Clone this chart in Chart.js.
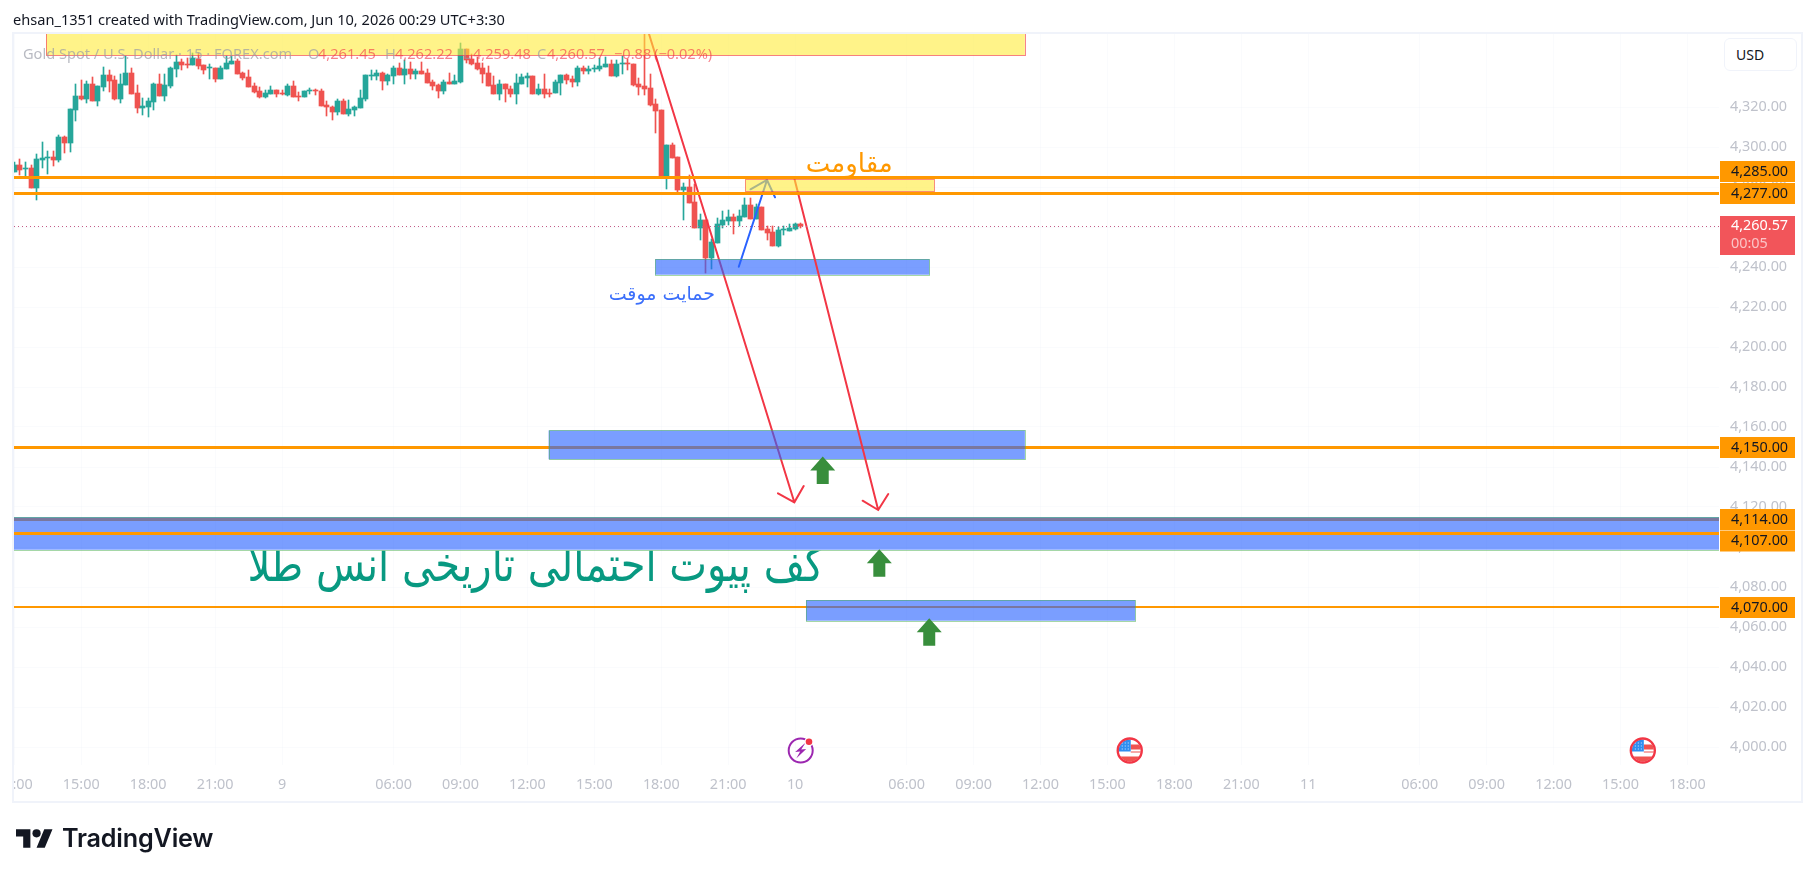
<!DOCTYPE html>
<html><head><meta charset="utf-8">
<script src="https://cdn.jsdelivr.net/npm/chart.js@4"></script>
<style>
html,body{margin:0;padding:0;background:#fff;width:1814px;height:877px;overflow:hidden}
#wrap{position:relative;width:1814px;height:877px}
#c{position:absolute;left:0;top:0}
.t{position:absolute;white-space:pre;font-family:"Noto Sans",sans-serif}
#head{left:13px;top:9px;font-size:14.6px;line-height:20px;color:#131722}
.lg{top:43px;font-size:14.6px;line-height:20px}
#usd{position:absolute;left:1724px;top:38px;width:71px;height:31px;border:1px solid #f0f3fa;border-radius:6px;background:#fff;box-sizing:content-box;font:14px/31px "Noto Sans",sans-serif;color:#131722;text-indent:11px}
#word{left:62px;top:822px;font-family:Inter,sans-serif;font-weight:600;font-size:25.2px;line-height:32px;color:#131722;letter-spacing:-.2px}
#logo{position:absolute;left:15.5px;top:829px}
</style></head><body><div id="wrap">
<canvas id="c" width="1814" height="877"></canvas>
<div class="t" id="head">ehsan_1351 created with TradingView.com, Jun 10, 2026 00:29 UTC+3:30</div>
<div id="legend"></div>
<div id="usd">USD</div>
<svg id="logo" width="37" height="19" viewBox="0 4 36 18"><path fill="#131722" d="M14 22H7V11H0V4h14v18zM28 22h-8l7.5-18h8L28 22z"/><circle fill="#131722" cx="20" cy="8" r="4"/></svg>
<div class="t" id="word">TradingView</div>
</div>
<script>
const opens=[4287.7,4291.0,4289.0,4289.5,4279.7,4293.5,4294.7,4295.0,4293.5,4305.0,
4302.0,4318.5,4325.5,4324.0,4331.5,4323.0,4330.0,4336.0,4333.5,4324.0,
4331.0,4337.0,4327.0,4319.7,4320.0,4322.5,4331.5,4325.5,4330.5,4339.0,
4342.5,4341.5,4341.0,4344.2,4341.0,4339.3,4339.5,4334.0,4339.0,4341.7,
4343.0,4337.0,4335.0,4330.5,4328.0,4325.0,4326.5,4328.5,4326.8,4326.0,
4330.5,4325.5,4325.0,4328.0,4328.5,4328.0,4320.8,4320.0,4317.5,4323.0,
4316.5,4318.5,4319.5,4324.0,4335.7,4335.5,4337.0,4333.0,4335.5,4339.5,
4336.0,4339.0,4336.5,4338.0,4337.0,4332.5,4331.0,4328.0,4332.5,4331.5,
4332.5,4349.0,4344.0,4342.0,4339.5,4337.0,4331.0,4326.5,4331.5,4329.0,
4326.5,4331.5,4334.7,4335.5,4326.5,4329.0,4327.0,4327.0,4332.0,4336.0,
4334.0,4332.5,4339.5,4338.2,4339.2,4339.0,4340.0,4341.5,4335.5,4341.5,
4342.0,4341.5,4331.5,4330.5,4329.5,4321.5,4318.5,4285.2,4301.0,4295.0,
4278.5,4280.0,4272.5,4259.5,4263.5,4244.5,4252.0,4261.0,4263.0,4265.0,
4263.0,4265.0,4271.0,4264.0,4270.0,4259.0,4257.5,4250.5,4258.3,4258.0,
4259.0,4261.45];
const highs=[4292.3,4294.0,4292.5,4291.0,4296.5,4302.5,4297.8,4298.2,4306.0,4305.7,
4319.0,4331.5,4333.5,4333.0,4335.0,4330.5,4340.0,4338.5,4335.5,4336.5,
4345.5,4339.5,4331.0,4324.3,4324.3,4331.8,4336.5,4336.5,4339.8,4346.0,
4344.0,4344.3,4346.8,4346.8,4341.0,4341.5,4339.5,4340.5,4345.5,4345.5,
4344.0,4337.5,4338.5,4331.8,4330.0,4328.5,4330.5,4328.5,4328.5,4331.5,
4333.0,4327.5,4328.0,4329.5,4328.8,4329.0,4323.0,4320.5,4324.0,4324.0,
4323.5,4320.5,4328.5,4336.0,4338.7,4338.5,4337.5,4336.5,4340.5,4341.8,
4343.5,4342.5,4339.0,4342.5,4339.0,4333.5,4331.5,4333.5,4337.0,4336.0,
4352.0,4349.0,4346.5,4344.8,4341.8,4340.5,4335.5,4333.5,4331.5,4330.5,
4336.5,4336.5,4336.8,4335.5,4331.5,4336.5,4329.0,4333.5,4336.0,4336.5,
4335.5,4340.5,4340.5,4340.7,4341.0,4344.3,4344.8,4343.5,4343.5,4345.5,
4343.8,4341.5,4334.5,4358.0,4336.5,4324.0,4318.5,4301.0,4302.0,4295.0,
4282.0,4286.0,4281.5,4266.5,4263.5,4254.0,4264.5,4268.2,4268.5,4266.5,
4268.5,4274.5,4274.5,4271.5,4270.0,4260.5,4260.5,4260.0,4260.5,4261.5,
4261.8,4262.22];
const lows=[4287.3,4286.0,4284.7,4279.7,4273.5,4289.3,4286.5,4290.5,4292.7,4297.0,
4297.5,4313.0,4323.5,4322.2,4323.0,4320.5,4327.8,4327.5,4323.5,4322.2,
4331.0,4326.5,4316.8,4316.0,4315.2,4318.5,4325.5,4323.0,4329.3,4335.0,
4338.5,4339.5,4341.0,4338.8,4336.5,4334.0,4332.5,4334.0,4339.0,4341.7,
4336.5,4333.5,4330.0,4326.8,4324.5,4324.5,4326.5,4325.0,4326.0,4325.7,
4325.0,4323.0,4325.0,4326.5,4326.0,4320.5,4315.5,4313.5,4316.0,4316.5,
4315.5,4315.5,4319.5,4323.2,4333.5,4333.5,4328.5,4331.0,4331.5,4336.0,
4331.5,4334.0,4334.0,4336.5,4332.0,4328.5,4324.5,4326.5,4331.5,4331.5,
4332.0,4341.8,4341.0,4338.5,4331.8,4330.5,4326.5,4323.5,4322.7,4325.2,
4321.5,4331.5,4329.8,4326.5,4326.0,4324.5,4325.2,4327.0,4326.0,4331.5,
4330.0,4330.5,4336.5,4336.5,4337.5,4338.0,4340.0,4335.5,4335.0,4336.5,
4338.5,4330.5,4326.0,4326.0,4320.5,4306.8,4285.2,4279.0,4294.5,4277.5,
4263.5,4272.0,4259.5,4253.5,4237.0,4239.0,4252.0,4259.5,4261.0,4256.5,
4260.5,4265.0,4264.0,4264.0,4258.5,4253.5,4250.5,4250.0,4256.0,4258.0,
4258.5,4259.48];
const closes=[4291.0,4288.5,4289.5,4279.7,4294.0,4294.5,4295.0,4293.5,4305.0,4302.0,
4319.0,4325.5,4324.2,4331.5,4323.0,4330.5,4336.0,4333.0,4324.0,4331.5,
4337.0,4326.5,4319.5,4320.5,4323.0,4331.5,4325.5,4331.0,4339.5,4342.5,
4341.2,4341.0,4344.5,4340.5,4338.5,4339.8,4334.0,4339.5,4342.0,4343.0,
4336.5,4334.5,4330.0,4327.5,4325.0,4327.0,4328.5,4326.5,4326.5,4330.5,
4325.0,4325.2,4328.0,4328.5,4328.2,4320.5,4320.0,4317.5,4323.0,4316.5,
4319.0,4320.0,4324.5,4336.0,4336.0,4336.8,4333.0,4336.0,4339.5,4336.0,
4339.0,4336.5,4338.2,4336.7,4332.0,4330.5,4328.0,4332.5,4331.5,4333.0,
4349.0,4343.5,4341.5,4339.0,4336.5,4330.5,4326.5,4331.5,4329.0,4326.5,
4332.0,4335.0,4335.5,4326.5,4329.0,4326.5,4326.5,4332.5,4336.0,4333.5,
4332.5,4339.5,4338.0,4339.0,4339.7,4340.5,4341.5,4335.5,4341.5,4342.0,
4341.5,4331.0,4330.0,4329.0,4321.0,4318.0,4285.2,4301.0,4294.5,4278.5,
4280.0,4272.0,4259.5,4263.5,4244.5,4252.5,4261.5,4263.5,4265.0,4263.0,
4265.5,4271.0,4264.0,4270.0,4258.5,4257.0,4250.5,4258.5,4258.8,4259.5,
4261.5,4260.57];

const priceTicks=[4320,4300,4280,4260,4240,4220,4200,4180,4160,4140,4120,4100,4080,4060,4040,4020,4000];
const timeTickBars=[0,12,24,36,48,68,80,92,104,116,128,140,160,172,184,196,208,220,232,252,264,276,288,300];
const timeTickLabels=["12:00","15:00","18:00","21:00","9","06:00","09:00","12:00","15:00","18:00","21:00","10","06:00","09:00","12:00","15:00","18:00","21:00","11","06:00","09:00","12:00","15:00","18:00"];
const levelPrices=[4285,4277,4150,4114,4107,4070];
const lastPrice=4260.57;
const countdown="00:05";

// drawings, in [bar, price] terms
const yellowTop=[5.73,4370,181.2,4345.85];
const yellowSmall=[131.07,4283.85,165.0,4277.65];
const blueZones=[[95.8,4158.3,181.2,4143.85],[-5,4115,310,4098.65],[141.95,4073.5,201.0,4063.15],[114.9,4244,164.1,4236.15]];
const redArrow1=[[113.8,4356.5],[139.86,4122.35],[136.93,4126.85],[141.54,4130.5]];
const redArrow2=[[139.8,4285],[154.9,4118.5],[152.1,4123.15],[156.7,4126.5]];
const blueArrow=[[129.9,4240.15],[134.96,4283.5],[132.0,4278.85],[136.4,4274.85]];
const greenArrowBars=[144.95,155.1,164.05];
const greenArrowTips=[4145.2,4098.85,4064.35];
const eventBolt=[141];
const eventFlags=[200,292];
const noteResistance="مقاومت";
const noteSupport="حمایت موقت";
const notePivot="کف پیوت احتمالی تاریخی انس طلا";

const legendParts=[["Gold Spot / U.S. Dollar · 15 · FOREX.com",23,0],["O",308,0],["4,261.45",318,1],["H",385,0],["4,262.22",395,1],["L",463,0],["4,259.48",473,1],["C",537,0],["4,260.57",547,1],["−0.88",614,1],["(−0.02%)",654,1]];
const legendEl=document.getElementById('legend');
legendParts.forEach(p=>{const s=document.createElement('div');s.className='t lg';s.textContent=p[0];s.style.left=p[1]+'px';s.style.color=p[2]?'rgba(242,54,69,.62)':'rgba(150,153,165,.68)';legendEl.appendChild(s);});

const UP='#26a69a',DOWN='#ef5350',ORANGE='#ff9800',BLUE='rgba(41,98,255,.62)',YELLOW='rgba(255,235,59,.6)',RED='#f23645';
const barColors=opens.map((o,i)=>closes[i]>=o?UP:DOWN);
const fontAxis='14.4px "Noto Sans",sans-serif';
const fmt=v=>v.toLocaleString('en-US',{minimumFractionDigits:2,maximumFractionDigits:2});

const snap={id:'snap',beforeDatasetsDraw(ch){
  ch.data.datasets.forEach((d,k)=>{ch.getDatasetMeta(k).data.forEach(el=>{
    el.x=Math.round(el.x-.5)+.5;
    let a=Math.round(el.y),b=Math.round(el.base);
    if(a===b)b=a+1;
    el.y=a;el.base=b;
  });});
}};

const drawings={id:'drawings',afterDatasetsDraw(ch){
  const c=ch.ctx,X=v=>ch.scales.x.getPixelForValue(v),Y=v=>ch.scales.y.getPixelForValue(v),A=ch.chartArea;
  const hline=(p,w,col)=>{c.strokeStyle=col;c.lineWidth=w;c.beginPath();const y=Math.round(Y(p))+(w%2?.5:0);c.moveTo(A.left,y);c.lineTo(A.right,y);c.stroke();};
  const rect=(r,fill,bd)=>{const x=X(r[0]),y=Y(r[1]),w=X(r[2])-x,h=Y(r[3])-y;c.fillStyle=fill;c.fillRect(x,y,w,h);c.strokeStyle=bd;c.lineWidth=1;c.strokeRect(Math.round(x)+.5,Math.round(y)+.5,Math.round(w),Math.round(h));};
  const arrow=(a,col,w)=>{c.strokeStyle=col;c.lineWidth=w;c.lineCap='round';c.beginPath();c.moveTo(X(a[0][0]),Y(a[0][1]));c.lineTo(X(a[1][0]),Y(a[1][1]));c.moveTo(X(a[2][0]),Y(a[2][1]));c.lineTo(X(a[1][0]),Y(a[1][1]));c.lineTo(X(a[3][0]),Y(a[3][1]));c.stroke();c.lineCap='butt';};
  c.save();c.beginPath();c.rect(A.left,A.top,A.right-A.left,A.bottom-A.top);c.clip();
  hline(levelPrices[2],3,ORANGE);hline(levelPrices[3],3,ORANGE);hline(levelPrices[5],2,ORANGE);
  arrow(blueArrow,'#2962ff',2);
  arrow(redArrow1,RED,2);
  blueZones.forEach(z=>rect(z,BLUE,'rgba(76,175,80,.5)'));
  arrow(redArrow2,RED,2);
  rect(yellowTop,YELLOW,'rgba(242,54,69,.62)');
  rect(yellowSmall,YELLOW,'rgba(242,54,69,.55)');
  hline(levelPrices[0],3,ORANGE);hline(levelPrices[1],3,ORANGE);hline(levelPrices[4],3,ORANGE);
  // current price line
  c.strokeStyle='#c45a85';c.lineWidth=1;c.setLineDash([1,3]);c.beginPath();const ly=Math.round(Y(lastPrice))+.5;c.moveTo(A.left,ly);c.lineTo(A.right,ly);c.stroke();c.setLineDash([]);
  // green arrows
  c.fillStyle='#388e3c';
  greenArrowBars.forEach((b,i)=>{const x=X(b),t=Y(greenArrowTips[i]);c.beginPath();c.moveTo(x,t);c.lineTo(x+12.5,t+14);c.lineTo(x+6,t+14);c.lineTo(x+6,t+27.5);c.lineTo(x-6,t+27.5);c.lineTo(x-6,t+14);c.lineTo(x-12.5,t+14);c.closePath();c.fill();});
  // notes
  c.direction='rtl';c.textAlign='center';c.textBaseline='middle';
  c.fillStyle=ORANGE;c.font='26px "DejaVu Sans",sans-serif';c.fillText(noteResistance,X(149.7),Y(4291));
  c.fillStyle='#3b6ffb';c.font='19px "DejaVu Sans",sans-serif';c.fillText(noteSupport,X(116.1),Y(4226));
  // pivot note sits below the zone and is cut by it
  c.save();c.beginPath();c.rect(A.left,Y(4098.65)+1,A.right-A.left,A.bottom-Y(4098.65));c.clip();
  c.fillStyle='#089981';c.font='44px "DejaVu Sans",sans-serif';
  c.translate(X(93.5),Y(4089.5));c.scale(.91,1.1);c.fillText(notePivot,0,0);
  c.restore();
  c.direction='ltr';
  // events
  const ey=750.5;
  eventBolt.forEach(b=>{const x=X(b);c.strokeStyle='#9c27b0';c.lineWidth=2;c.beginPath();c.arc(x,ey,12,0,Math.PI*2);c.stroke();
    c.fillStyle='#9c27b0';c.beginPath();c.moveTo(x+5,ey-8);c.lineTo(x-5.5,ey+1.5);c.lineTo(x-.5,ey+1);c.lineTo(x-4.5,ey+8);c.lineTo(x+5.5,ey-1.5);c.lineTo(x+.5,ey-1);c.closePath();c.fill();
    c.fillStyle='#fff';c.beginPath();c.arc(x+8.3,ey-8.8,4.6,0,Math.PI*2);c.fill();
    c.fillStyle=RED;c.beginPath();c.arc(x+8.3,ey-8.8,3.3,0,Math.PI*2);c.fill();});
  eventFlags.forEach(b=>{const x=X(b);c.save();c.beginPath();c.arc(x,ey,11,0,Math.PI*2);c.clip();c.fillStyle='#fff';c.fillRect(x-12,ey-12,24,24);
    c.fillStyle='#ef5350';c.fillRect(x+1,ey-6,12,5);c.fillRect(x-12,ey+6,24,6);c.fillRect(x+1,ey+1,12,1);
    c.fillStyle='#2e8ef0';c.fillRect(x-12,ey-12,13,13);
    c.fillStyle='#d6e8ff';for(let i=0;i<3;i++)for(let j=0;j<3;j++)c.fillRect(x-8+i*3,ey-8+j*3,1,1);
    c.restore();c.strokeStyle=RED;c.lineWidth=2.4;c.beginPath();c.arc(x,ey,12,0,Math.PI*2);c.stroke();});
  c.restore();
}};

const overlay={id:'overlay',afterDraw(ch){
  const c=ch.ctx,Y=v=>ch.scales.y.getPixelForValue(v);
  // frame and clipped first time label
  c.fillStyle='#fff';c.fillRect(0,770,13,28);
  c.strokeStyle='#f0f3fa';c.lineWidth=2;c.strokeRect(13,33,1789,769);
  // price labels
  const nudge=[-5.5,0.5,0.5,0.5,8,0.5];
  c.textAlign='left';c.textBaseline='middle';
  levelPrices.forEach((p,i)=>{const y=Y(p)+nudge[i];c.fillStyle=ORANGE;c.fillRect(1720,y-10.5,75,21);c.fillStyle='#131722';c.font=fontAxis;c.fillText(fmt(p),1731,y);});
  c.fillStyle='#f2555a';c.fillRect(1720,216,75,39);
  c.fillStyle='#fff';c.font=fontAxis;c.fillText(fmt(lastPrice),1731,226);
  c.fillStyle='rgba(255,255,255,.65)';c.fillText(countdown,1731,244);
}};

new Chart(document.getElementById('c'),{
  type:'bar',
  data:{datasets:[
    {label:'wick',order:2,barThickness:1,backgroundColor:barColors,data:opens.map((o,i)=>({x:i,y:[lows[i],highs[i]]}))},
    {label:'body',order:1,barThickness:5,backgroundColor:barColors,data:opens.map((o,i)=>({x:i,y:[Math.min(o,closes[i]),Math.max(o,closes[i])]}))}
  ]},
  options:{
    responsive:false,animation:false,devicePixelRatio:1,
    layout:{padding:{left:14,top:34,right:12,bottom:75}},
    plugins:{legend:{display:false},tooltip:{enabled:false},title:{display:false}},
    datasets:{bar:{grouped:false,borderWidth:0,borderSkipped:false}},
    scales:{
      x:{type:'linear',offset:false,min:-0.06,max:305.66,
        grid:{offset:false,color:'rgba(240,243,250,.35)',drawTicks:false},border:{display:false},
        ticks:{autoSkip:false,maxRotation:0,padding:11,color:'#bfc2cb',font:{family:'"Noto Sans",sans-serif',size:14.4},
          callback:v=>timeTickLabels[timeTickBars.indexOf(v)]},
        afterBuildTicks:s=>{s.ticks=timeTickBars.map(v=>({value:v}));},
        afterFit:s=>{s.height=37;s.paddingLeft=0;s.paddingRight=0;}},
      y:{type:'linear',position:'right',min:3991,max:4356.5,
        grid:{color:'rgba(240,243,250,.35)',drawTicks:false},border:{display:false},
        ticks:{autoSkip:false,padding:11,color:'#bfc2cb',font:{family:'"Noto Sans",sans-serif',size:14.4},callback:v=>fmt(v)},
        afterBuildTicks:s=>{s.ticks=priceTicks.map(v=>({value:v}));},
        afterFit:s=>{s.width=83;s.paddingTop=0;s.paddingBottom=0;}}
    }
  },
  plugins:[snap,drawings,overlay]
});
</script></body></html>
